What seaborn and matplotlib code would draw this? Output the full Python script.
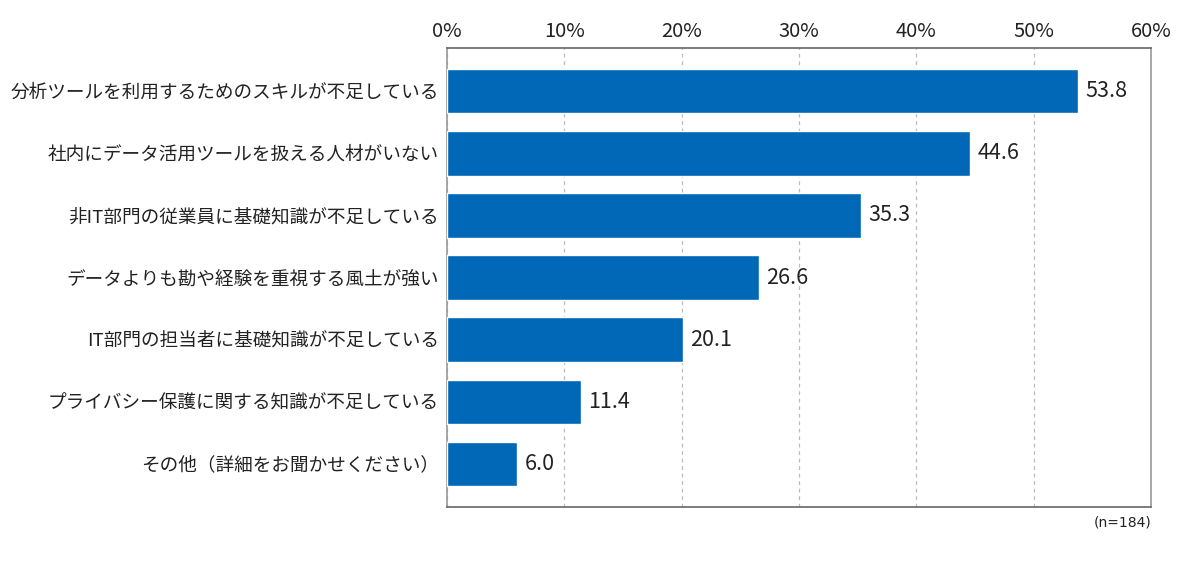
import matplotlib
matplotlib.use('Agg')
import matplotlib.pyplot as plt
import matplotlib.ticker as mticker
import seaborn as sns
import pandas as pd

# Data
categories = [
    '分析ツールを利用するためのスキルが不足している',
    '社内にデータ活用ツールを扱える人材がいない',
    '非IT部門の従業員に基礎知識が不足している',
    'データよりも勘や経験を重視する風土が強い',
    'IT部門の担当者に基礎知識が不足している',
    'プライバシー保護に関する知識が不足している',
    'その他（詳細をお聞かせください）',
]
values = [53.8, 44.6, 35.3, 26.6, 20.1, 11.4, 6.0]
x_ticks = [0, 10, 20, 30, 40, 50, 60]
sample_note = '(n=184)'

df = pd.DataFrame({'item': categories, 'value': values})

sns.set_style('white')
plt.rcParams['font.family'] = ['Noto Sans CJK JP', 'DejaVu Sans']

fig = plt.figure(figsize=(12, 5.67), dpi=100)
ax = fig.add_axes([0.3725, 0.1058, 0.9592 - 0.3725, 0.9153 - 0.1058])

sns.barplot(data=df, x='value', y='item', color='#0068b7', saturation=1,
            width=0.72, ax=ax, zorder=3)

ax.set_xlim(0, 60)
ax.set_ylim(6.69, -0.69)
ax.set_xticks(x_ticks)
ax.xaxis.set_major_formatter(mticker.FuncFormatter(lambda v, p: f'{v:.0f}%'))
ax.xaxis.tick_top()
ax.tick_params(axis='x', length=0, pad=4, labelsize=14.5, labelcolor='#222222')
ax.tick_params(axis='y', length=0, pad=6, labelsize=13.4, labelcolor='#222222')
ax.set_xlabel('')
ax.set_ylabel('')

ax.grid(axis='x', linestyle=(0, (3, 3)), color='#bbbbbb', linewidth=0.9, zorder=0)
for side in ['left', 'right', 'bottom', 'top']:
    ax.spines[side].set_visible(True)
    ax.spines[side].set_color('#999999')
    ax.spines[side].set_linewidth(1.2)
ax.spines['bottom'].set_color('#666666')
ax.spines['top'].set_color('#666666')

for i, v in enumerate(values):
    ax.text(v + 0.6, i, f'{v:.1f}', va='center', ha='left', fontsize=15.5,
            color='#222222')

fig.text(0.9592, 0.078, sample_note, ha='right', va='center', fontsize=10,
         color='#222222', family=['DejaVu Sans'])

fig.savefig('out.png', dpi=100)
